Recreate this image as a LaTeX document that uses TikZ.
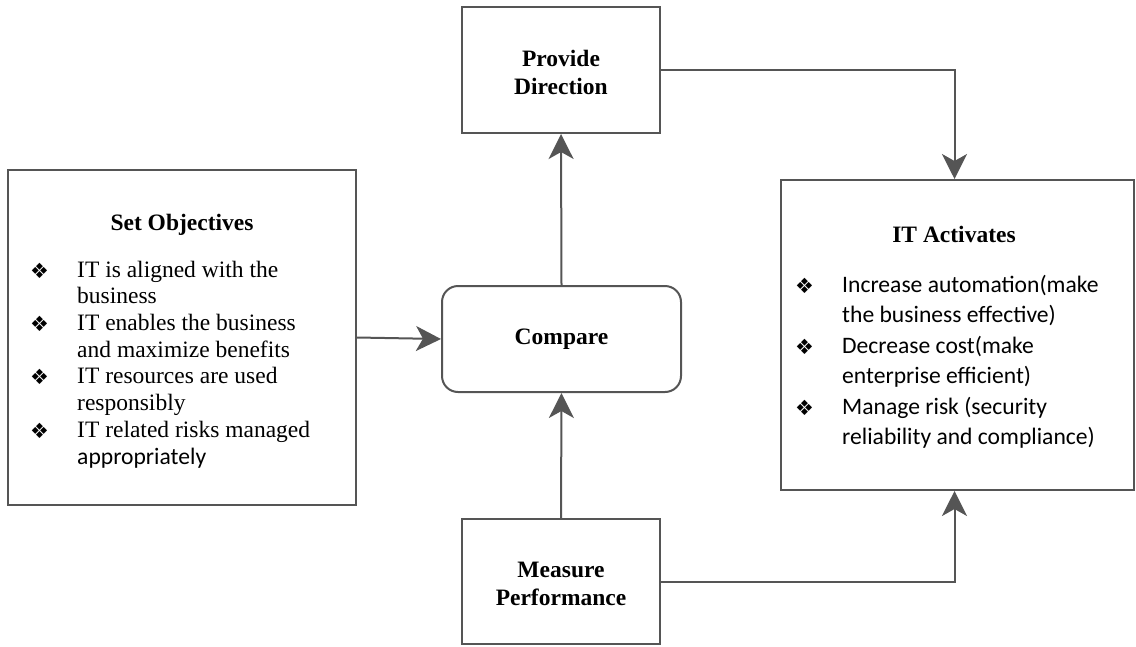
\documentclass[tikz,border=0pt]{standalone}
\usepackage{fontspec}
\setmainfont{Liberation Serif}
\newfontfamily\calib{Carlito}
\newfontfamily\symfont{DejaVu Sans}
\usetikzlibrary{arrows.meta}
\definecolor{linegrey}{HTML}{555555}
\tikzset{
  box/.style={draw=linegrey, line width=2pt, fill=white, inner sep=0pt},
  roundbox/.style={box, rounded corners=16pt},
  title/.style={font=\fontsize{23.5}{28}\selectfont\bfseries, inner sep=0pt, align=center},
  serifline/.style={font=\fontsize{23.5}{27}\selectfont, inner sep=0pt, anchor=base west},
  sansline/.style={font=\calib\fontsize{23.6}{30}\selectfont, inner sep=0pt, anchor=base west},
  bullet/.style={font=\symfont\fontsize{21}{24}\selectfont, inner sep=0pt, anchor=base west},
  arr/.style={draw=linegrey, line width=2pt,
    -{Stealth[length=25pt, width=25pt, inset=7pt]}},
}
\begin{document}
\begin{tikzpicture}[x=1pt, y=-1pt]
\useasboundingbox (0,0) rectangle (1136,646);

% boxes
\node[box, minimum width=348pt, minimum height=335pt] (setobj) at (182,337.5) {};
\node[box, minimum width=198pt, minimum height=126pt] (pd) at (561,70) {};
\node[roundbox, minimum width=239pt, minimum height=106pt] (cmp) at (561.5,339) {};
\node[box, minimum width=198pt, minimum height=125pt] (mp) at (561,581.5) {};
\node[box, minimum width=353pt, minimum height=310pt] (ita) at (957.5,335) {};

% box titles
\node[title] (pdtxt) at (561,72) {Provide\\Direction};
\node[title] (cmptxt) at (561.5,339) {Compare};
\node[title] (mptxt) at (561,584) {Measure\\Performance};
\node[title, anchor=base] (sotitle) at (182,230) {Set Objectives};
\node[title, anchor=base] (itatitle) at (954,242) {IT Activates};

% Set Objectives items
\node[bullet] (sob1) at (30,278) {❖};
\node[serifline] (so1a) at (77,277) {IT is aligned with the};
\node[serifline] (so1b) at (77,303.5) {business};
\node[bullet] (sob2) at (30,331) {❖};
\node[serifline] (so2a) at (77,330) {IT enables the business};
\node[serifline] (so2b) at (77,357) {and maximize benefits};
\node[bullet] (sob3) at (30,384.5) {❖};
\node[serifline] (so3a) at (77,383.5) {IT resources are used};
\node[serifline] (so3b) at (77,410) {responsibly};
\node[bullet] (sob4) at (30,438) {❖};
\node[serifline] (so4a) at (77,437) {IT related risks managed};
\node[sansline] (so4b) at (77,464) {appropriately};

% IT Activates items
\node[bullet] (itb1) at (795,293) {❖};
\node[sansline] (it1a) at (842,292) {Increase automation(make};
\node[sansline] (it1b) at (842,322.5) {the business effective)};
\node[bullet] (itb2) at (795,354) {❖};
\node[sansline] (it2a) at (842,353) {Decrease cost(make};
\node[sansline] (it2b) at (842,383.5) {enterprise efficient)};
\node[bullet] (itb3) at (795,415) {❖};
\node[sansline] (it3a) at (842,414) {Manage risk (security};
\node[sansline] (it3b) at (842,444.5) {reliability and compliance)};

% connectors
\draw[arr] (setobj.east) -- (cmp.west);
\draw[arr] (cmp.north) -- (pd.south);
\draw[arr] (mp.north) -- (cmp.south);
\draw[arr] (pd.east) -| ([xshift=-3pt]ita.north);
\draw[arr] (mp.east) -| ([xshift=-3pt]ita.south);
\end{tikzpicture}
\end{document}
